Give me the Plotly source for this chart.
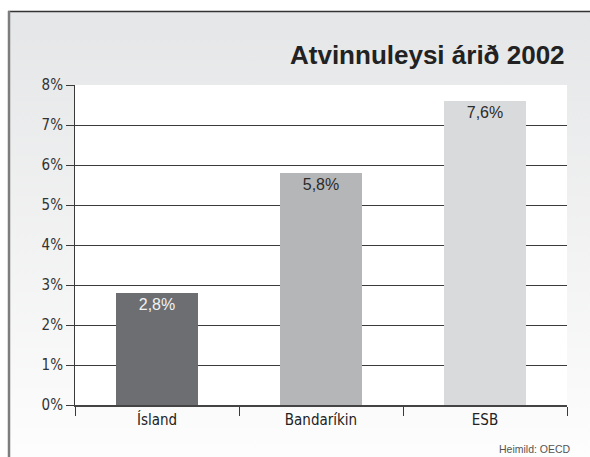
import base64
import plotly.graph_objects as go

categories = ["Ísland", "Bandaríkin", "ESB"]
values = [2.8, 5.8, 7.6]
value_labels = ["2,8%", "5,8%", "7,6%"]
bar_colors = ["#6d6e71", "#b5b6b8", "#d9dadb"]
text_colors = ["#f2f2f2", "#2b2b2b", "#2b2b2b"]
y_ticks = [0, 1, 2, 3, 4, 5, 6, 7, 8]
y_tick_labels = ["0%", "1%", "2%", "3%", "4%", "5%", "6%", "7%", "8%"]
title_text = "Atvinnuleysi árið 2002"
source_text = "Heimild: OECD"

NARROW = "DejaVu Sans Condensed, Liberation Sans Narrow, sans-serif"
SANS = "Liberation Sans, Arial, Helvetica, sans-serif"

W, H = 590, 457
L, R, T, B = 75, 23, 85, 52
pw, ph = W - L - R, H - T - B


def px_x(x):
    return (x - L) / pw


def px_y(y):
    return (H - B - y) / ph


svg = ('<svg xmlns="http://www.w3.org/2000/svg" width="100" height="100" preserveAspectRatio="none">'
       '<defs><linearGradient id="g" x1="0" y1="0" x2="0" y2="1">'
       '<stop offset="0" stop-color="#e5e6e7"/><stop offset="1" stop-color="#fdfdfd"/>'
       '</linearGradient></defs><rect width="100" height="100" fill="url(#g)"/></svg>')
src = "data:image/svg+xml;base64," + base64.b64encode(svg.encode()).decode()

fig = go.Figure(go.Bar(
    x=categories, y=values, width=0.5,
    marker=dict(color=bar_colors, line=dict(width=0)),
    text=value_labels, textposition="inside", insidetextanchor="end",
    textfont=dict(family=SANS, size=16, color=text_colors),
    textangle=0, hoverinfo="skip",
))

fig.update_layout(
    width=W, height=H,
    margin=dict(l=L, r=R, t=T, b=B, pad=0),
    paper_bgcolor="white", plot_bgcolor="rgba(0,0,0,0)",
    showlegend=False, hovermode=False,
    images=[dict(source=src, xref="paper", yref="paper",
                 x=px_x(8), y=px_y(11), sizex=(W - 8) / pw, sizey=(H - 11) / ph,
                 xanchor="left", yanchor="top", sizing="stretch", layer="below")],
    shapes=[
        dict(type="rect", xref="paper", yref="paper", x0=0, x1=1, y0=0, y1=1,
             fillcolor="white", line=dict(width=0), layer="below"),
        dict(type="line", xref="paper", yref="paper", x0=px_x(8), x1=px_x(W + 5),
             y0=px_y(11.5), y1=px_y(11.5), line=dict(color="#333333", width=1.5)),
        dict(type="line", xref="paper", yref="paper", x0=px_x(9), x1=px_x(9),
             y0=px_y(11), y1=px_y(H + 5), line=dict(color="#7d7d7d", width=2.5)),
    ],
    annotations=[
        dict(text=title_text, xref="paper", yref="paper", x=1, y=px_y(55),
             xanchor="right", yanchor="middle", showarrow=False,
             font=dict(family=SANS, size=26, color="#222222", weight="bold")),
        dict(text=source_text, xref="paper", yref="paper", x=px_x(573), y=px_y(449),
             xanchor="right", yanchor="middle", showarrow=False,
             font=dict(family=SANS, size=10.5, color="#555555")),
    ],
)

fig.update_yaxes(
    range=[0, 8], tickvals=y_ticks, ticktext=y_tick_labels,
    showgrid=True, gridcolor="#3a3a3a", gridwidth=1,
    zeroline=False, showline=True, linecolor="#3a3a3a", linewidth=1,
    ticks="outside", ticklen=8, tickcolor="#3a3a3a", tickwidth=1,
    tickfont=dict(family=NARROW, size=15, color="#333333"),
    fixedrange=True,
)
fig.update_xaxes(
    type="category", showgrid=False, showline=True, linecolor="#444444", linewidth=2,
    ticks="outside", tickson="boundaries", ticklen=9, tickcolor="#3a3a3a", tickwidth=1,
    tickfont=dict(family=NARROW, size=15, color="#222222"),
    fixedrange=True,
)

fig.write_html("out.html", config={"displayModeBar": False},
               post_script="document.body.style.margin='0';document.body.style.padding='0';")
